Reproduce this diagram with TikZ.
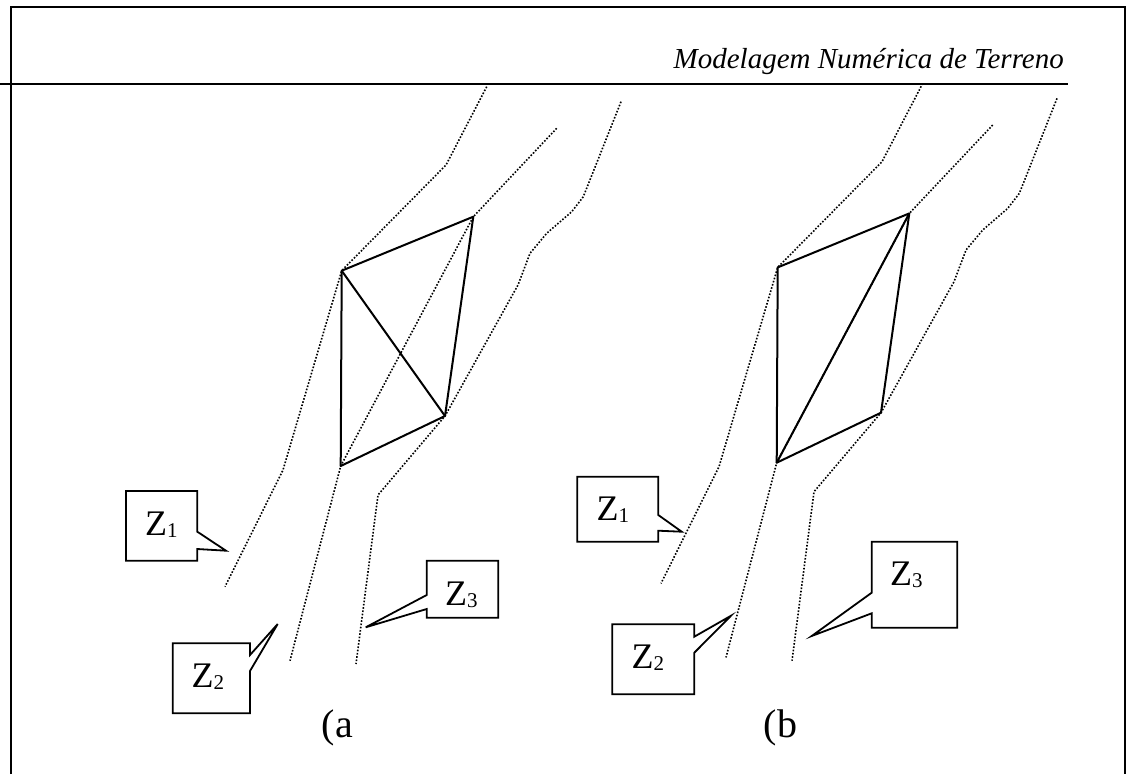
\documentclass[tikz,border=0pt]{standalone}
\usepackage{fontspec}
\setmainfont{Liberation Serif}
\newcommand{\zsub}[1]{\raisebox{-2pt}{\fontsize{21}{21}\selectfont #1}}
\begin{document}
\begin{tikzpicture}[x=1pt,y=-1pt,
  frame/.style={line width=2.2pt},
  contour/.style={line width=1.6pt, dash pattern=on 1.6pt off 1.7pt},
  edge/.style={line width=2pt, line join=round},
  callout/.style={line width=1.8pt, line join=miter},
  zlabel/.style={font=\fontsize{36}{36}\selectfont, inner sep=0pt, anchor=base west},
  panellabel/.style={font=\fontsize{40}{40}\selectfont, inner sep=0pt, anchor=base west}]
\useasboundingbox (0,0) rectangle (1131,774);
% frame and header
\draw[frame] (10.7,774) -- (10.7,7.3) -- (1125,7.3) -- (1125,774);
\draw[line width=2pt] (0,84.3) -- (1068.3,84.3);
\node[font=\fontsize{29}{29}\selectfont\itshape, inner sep=0pt, anchor=base east] (title) at (1064,68) {Modelagem Numérica de Terreno};

% panel (a)
\coordinate (A1) at (341.7,270.7);
\coordinate (A2) at (473.3,216.7);
\coordinate (A3) at (445,416);
\coordinate (A4) at (340.7,466);
\draw[contour] (486.7,86.7) -- (446,165) -- (A1) -- (283,470) -- (225,586.7);
\draw[contour] (556.7,128.3) -- (A2) -- (A4) -- (290,660.7);
\draw[contour] (621,101.7) -- (583.3,196.7) -- (571.7,211.7) -- (546.7,233.3) -- (530,253.3) -- (518,285) -- (A3) -- (378,495) -- (356,664);
\draw[edge] (A1) -- (A2) -- (A3) -- (A4) -- cycle;
\draw[edge] (A1) -- (A3);

% panel (b)
\begin{scope}[shift={(436,-3.3)}]
\coordinate (B1) at (341.7,270.7);
\coordinate (B2) at (473.3,216.7);
\coordinate (B3) at (445,416);
\coordinate (B4) at (340.7,466);
\draw[contour] (486.7,86.7) -- (446,165) -- (B1) -- (283,470) -- (225,586.7);
\draw[contour] (556.7,128.3) -- (B2) -- (B4) -- (290,660.7);
\draw[contour] (621,101.7) -- (583.3,196.7) -- (571.7,211.7) -- (546.7,233.3) -- (530,253.3) -- (518,285) -- (B3) -- (378,495) -- (356,664);
\draw[edge] (B1) -- (B2) -- (B3) -- (B4) -- cycle;
\draw[edge] (B4) -- (B2);
\end{scope}

% callouts panel (a)
\draw[callout] (126,491) -- (197.3,491) -- (197.3,531.7) -- (226,550.7) -- (197.3,549) -- (197.3,560.7) -- (126,560.7) -- cycle;
\draw[callout] (172.7,643.3) -- (250,643.3) -- (250,655) -- (277.7,624) -- (250,671) -- (250,713.3) -- (172.7,713.3) -- cycle;
\draw[callout] (426.7,560.7) -- (498.3,560.7) -- (498.3,617.7) -- (426.7,617.7) -- (426.7,609) -- (365.7,627.3) -- (426.7,595) -- cycle;
\node[zlabel] (z1a) at (145,535) {Z\zsub{1}};
\node[zlabel] (z2a) at (191.5,687) {Z\zsub{2}};
\node[zlabel] (z3a) at (445,605) {Z\zsub{3}};

% callouts panel (b)
\draw[callout] (577.3,476.7) -- (658.3,476.7) -- (658.3,515) -- (681.7,531.7) -- (658.3,530.7) -- (658.3,541.7) -- (577.3,541.7) -- cycle;
\draw[callout] (612.3,624.3) -- (694.3,624.3) -- (694.3,636.7) -- (731,615.7) -- (694.3,652.7) -- (694.3,694.3) -- (612.3,694.3) -- cycle;
\draw[callout] (871.7,541.7) -- (957.3,541.7) -- (957.3,627.7) -- (871.7,627.7) -- (871.7,613.3) -- (811.7,636) -- (871.7,592.7) -- cycle;
\node[zlabel] (z1b) at (596.5,520) {Z\zsub{1}};
\node[zlabel] (z2b) at (631.5,668.5) {Z\zsub{2}};
\node[zlabel] (z3b) at (890,585) {Z\zsub{3}};

% panel labels
\node[panellabel] (la) at (321.5,737) {(a};
\node[panellabel] (lb) at (763.5,737) {(b};
\end{tikzpicture}
\end{document}
